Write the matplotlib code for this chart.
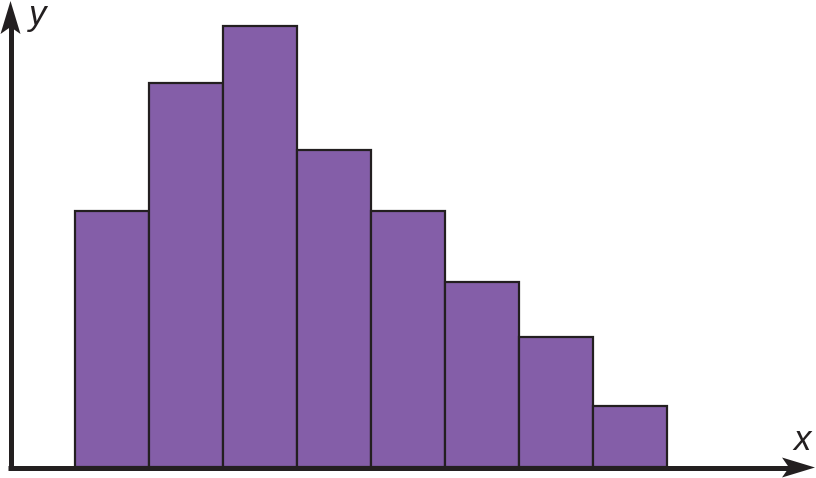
import matplotlib
matplotlib.use("Agg")
import matplotlib.pyplot as plt
from matplotlib.patches import Polygon

# Data
bin_edges = [1, 2, 3, 4, 5, 6, 7, 8, 9]
heights = [4.2, 6.3, 7.23, 5.2, 4.2, 3.03, 2.13, 1.0]
x_label = "x"
y_label = "y"

W, H = 816, 478
fig = plt.figure(figsize=(W / 100, H / 100), dpi=100)
ax = fig.add_axes([0, 0, 1, 1])

# pixel <-> data mapping
PX_X = 74.0   # pixels per x unit
PX_Y = 61.0   # pixels per y unit
x0 = 1 - 75 / PX_X
base_px = 467.0
ax.set_xlim(x0, x0 + W / PX_X)
ax.set_ylim(-(H - base_px) / PX_Y, base_px / PX_Y)
ax.axis("off")

def P(px, py):
    return (x0 + px / PX_X, (base_px - py) / PX_Y)

bar_color = "#845EA8"
edge_color = "#231F20"
widths = [bin_edges[i + 1] - bin_edges[i] for i in range(len(heights))]
ax.bar(bin_edges[:-1], heights, width=widths, align="edge",
       color=bar_color, edgecolor=edge_color, linewidth=1.6, zorder=2)

# Axes lines
lw = 5 * 72 / 100
xa, ya = P(10.5, 470)
xb, yb = P(10.5, 20)
ax.plot([xa, xb], [ya, yb], color=edge_color, lw=lw, solid_capstyle="butt", zorder=3)
xa, ya = P(8, 467.5)
xb, yb = P(795, 467.5)
ax.plot([xa, xb], [ya, yb], color=edge_color, lw=lw, solid_capstyle="butt", zorder=3)

# Arrow heads
ax.add_patch(Polygon([P(10.5, 1), P(0.5, 34), P(10.5, 27), P(20.5, 34)],
                     closed=True, color=edge_color, zorder=4, lw=0))
ax.add_patch(Polygon([P(815, 467.5), P(782, 457.5), P(789, 467.5), P(782, 477.5)],
                     closed=True, color=edge_color, zorder=4, lw=0))

# Labels
lx, ly = P(38, 15)
ax.text(lx, ly, y_label, fontsize=25, fontstyle="italic", family="Liberation Sans",
        ha="center", va="center", color=edge_color)
lx, ly = P(802, 440)
ax.text(lx, ly, x_label, fontsize=25, fontstyle="italic", family="Liberation Sans",
        ha="center", va="center", color=edge_color)

fig.savefig("out.png", dpi=100)
